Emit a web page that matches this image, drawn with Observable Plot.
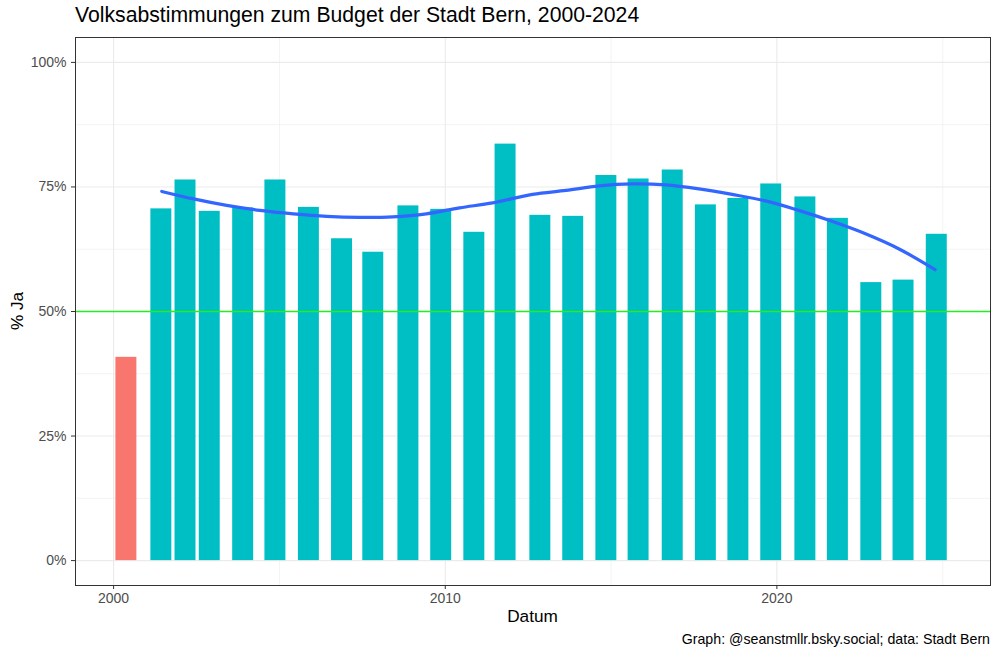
<!DOCTYPE html>
<html><head><meta charset="utf-8">
<script src="https://cdn.jsdelivr.net/npm/d3@7"></script>
<script src="https://cdn.jsdelivr.net/npm/@observablehq/plot@0.6"></script>
<style>
body{margin:0;background:#fff;font-family:"Liberation Sans",Arial,sans-serif;}
#wrap{position:relative;width:1000px;height:658px;overflow:hidden;background:#fff;}
#chart{position:absolute;left:0;top:0;}
.lbl{position:absolute;white-space:nowrap;color:#000;}
#title{left:75px;top:3px;font-size:21.2px;}
#caption{right:10px;top:631px;font-size:14.2px;}
#xtitle{left:0;width:1000px;text-align:center;padding-left:65px;box-sizing:border-box;top:606px;font-size:17.2px;}
#ytitle{left:17px;top:311px;font-size:17.2px;transform:translate(-50%,-50%) rotate(-90deg);}
</style></head>
<body>
<div id="wrap">
<div id="chart"></div>
<div class="lbl" id="title">Volksabstimmungen zum Budget der Stadt Bern, 2000-2024</div>
<div class="lbl" id="xtitle">Datum</div>
<div class="lbl" id="ytitle">% Ja</div>
<div class="lbl" id="caption">Graph: @seanstmllr.bsky.social; data: Stadt Bern</div>
</div>
<script>
// vote dates and yes share (%)
const voteDates = ["2000-05-21","2001-06-10","2002-03-03","2002-11-25","2003-11-28","2004-11-17","2005-11-21","2006-11-21","2007-10-31","2008-11-21","2009-11-17","2010-11-17","2011-10-27","2012-11-13","2013-11-10","2014-11-10","2015-10-31","2016-11-10","2017-11-10","2018-11-03","2019-10-31","2020-11-10","2021-11-03","2022-11-06","2023-10-27","2024-10-27"];
const yesShare = [40.8,70.6,76.4,70.1,70.8,76.4,70.9,64.6,61.9,71.2,70.5,65.9,83.6,69.3,69.1,77.3,76.6,78.4,71.4,72.7,75.6,73.0,68.7,55.8,56.3,65.5];

// loess smooth (decimal year, %)
const smoothYears = [2001.45,2002.41,2003.41,2004.41,2005.42,2006.42,2007.42,2008.42,2009.43,2010.43,2011.43,2012.63,2013.64,2014.64,2015.64,2016.65,2017.65,2018.65,2019.66,2020.66,2021.66,2022.67,2023.67,2024.77];
const smoothValues = [74.1,72.6,71.3,70.3,69.6,69.1,68.9,69.0,69.6,70.8,71.8,73.5,74.3,75.2,75.6,75.4,74.6,73.5,72.2,70.3,68.1,65.6,62.6,58.4];

// axis ticks
const yTicks = [0,25,50,75,100];
const yMinor = [12.5,37.5,62.5,87.5];
const xTicks = [2000,2010,2020];
const xMinor = [2005,2015,2025];
const threshold = 50;

const yearToDate = y => { const f = Math.floor(y); return new Date(Date.UTC(f,0,1) + (y - f) * 365.25 * 864e5); };
const halfWidth = 115.5 * 864e5;

const votes = voteDates.map((d,i) => ({date: new Date(d + "T00:00:00Z"), ja: yesShare[i], pass: yesShare[i] >= threshold ? "ja" : "nein"}));
const smooth = smoothYears.map((y,i) => ({date: yearToDate(y), v: smoothValues[i]}));

const chart = Plot.plot({
  width: 1000, height: 658,
  marginLeft: 75, marginRight: 10, marginTop: 37, marginBottom: 73,
  style: {fontFamily: "'Liberation Sans', Arial, sans-serif", background: "white", overflow: "visible"},
  x: {type: "utc", domain: [yearToDate(1998.85), yearToDate(2026.44)]},
  y: {domain: [-5, 105]},
  color: {domain: ["nein","ja"], range: ["#F8766D","#00BFC4"]},
  marks: [
    Plot.ruleY(yMinor, {stroke: "#EBEBEB", strokeWidth: 0.6}),
    Plot.ruleX(xMinor.map(yearToDate), {stroke: "#EBEBEB", strokeWidth: 0.6}),
    Plot.ruleY(yTicks, {stroke: "#EBEBEB", strokeWidth: 1.1}),
    Plot.ruleX(xTicks.map(yearToDate), {stroke: "#EBEBEB", strokeWidth: 1.1}),
    Plot.rectY(votes, {x1: d => new Date(+d.date - halfWidth), x2: d => new Date(+d.date + halfWidth), y: "ja", fill: "pass"}),
    Plot.ruleY([threshold], {stroke: "#22EE22", strokeWidth: 1.7}),
    Plot.line(smooth, {x: "date", y: "v", stroke: "#3366FF", strokeWidth: 3.2, curve: "catmull-rom"}),
    Plot.frame({stroke: "#333333", strokeWidth: 1}),
    Plot.axisX(xTicks.map(yearToDate), {tickFormat: d3.utcFormat("%Y"), tickSize: 4, tickPadding: 4, fontSize: 14, stroke: "#333333", fill: "#4D4D4D", label: null}),
    Plot.axisY(yTicks, {tickFormat: d => d + "%", tickSize: 4, tickPadding: 5, fontSize: 14, stroke: "#333333", fill: "#4D4D4D", label: null})
  ]
});
document.getElementById("chart").appendChild(chart);
</script>
</body></html>
